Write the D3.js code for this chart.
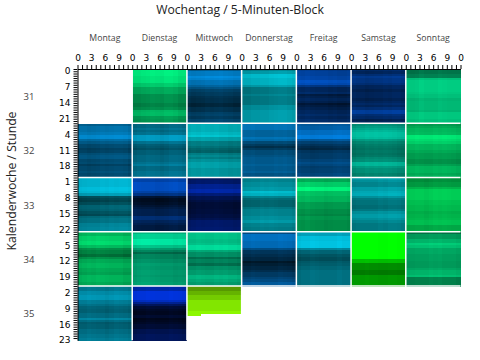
<!DOCTYPE html>
<html>
<head>
<meta charset="utf-8">
<script src="https://cdn.jsdelivr.net/npm/d3@7"></script>
<style>
    html, body { margin: 0; background: #fff; }
    text { font-family: "Open Sans", "Noto Sans", sans-serif; fill: #222; }
    .day-label { font-size: 8.7px; fill: #444; }
    .week-label { font-size: 9.5px; fill: #444; }
    .axis text { font-size: 9px; fill: #000; font-family: "DejaVu Sans", sans-serif; }
    .axis path, .axis line { stroke: #000; }
</style>
</head>
<body>
<svg id="chart" width="480" height="360"></svg>
<script>
    const days = ["Montag", "Dienstag", "Mittwoch", "Donnerstag", "Freitag", "Samstag", "Sonntag"];
    const weeks = ["31", "32", "33", "34", "35"];
    const minuteLabels = ["0", "3", "6", "9"];

    // hue of each panel (one row per week, one value per weekday)
    const hue31 = [null, 152, 202, 185, 215, 216, 158];
    const hue32 = [200, 192, 183, 202, 206, 170, 150];
    const hue33 = [188, 216, 226, 185, 150, 184, 145];
    const hue34 = [150, 162, 162, 205, 188, 120, 155];
    const hue35 = [190, 226, 86];

    // brightness in percent of each hour
    const levels31 = [
        null,
        [92,92,92,88,88,88,78,78,65,65,65,55,55,55,55,50,50,55,70,72,72,60,58,58],
        [55,75,75,85,80,70,70,60,50,40,35,35,30,28,28,22,22,30,30,38,40,35,42,42],
        [55,65,80,80,75,75,75,65,50,50,50,55,50,50,50,50,60,60,65,65,65,65,65,65],
        [55,60,60,65,65,75,70,50,35,35,40,25,30,35,30,20,25,30,35,35,40,35,40,40],
        [40,35,45,55,50,50,45,35,35,30,35,35,35,30,35,40,35,45,60,60,45,40,30,35],
        [45,45,50,50,75,80,80,80,80,80,78,75,75,70,72,72,72,72,70,78,78,78,75,75]
    ];
    const levels32 = [
        [55,65,65,65,70,80,80,62,52,42,42,36,38,46,50,50,42,44,36,42,42,46,42,42],
        [50,50,55,50,55,75,75,75,55,45,42,38,45,45,50,50,50,55,60,50,50,55,55,55],
        [70,70,70,70,75,80,65,65,50,50,45,40,38,50,55,50,58,65,65,65,60,60,60,60],
        [70,70,70,60,60,60,70,65,45,36,28,36,46,46,50,54,54,54,58,54,54,58,50,50],
        [60,65,65,75,75,85,85,60,44,36,30,26,36,40,40,40,46,52,48,42,44,44,48,48],
        [55,60,65,70,75,75,72,60,52,48,46,44,46,44,46,52,55,70,70,60,55,55,50,50],
        [60,65,70,70,72,90,90,85,80,70,70,70,65,60,60,60,55,55,62,70,70,70,65,68]
    ];
    const levels33 = [
        [80,80,80,80,85,85,82,70,35,30,28,34,44,44,42,36,32,46,50,50,58,58,60,60],
        [65,65,75,75,75,75,65,50,20,12,12,15,20,25,30,30,30,45,45,35,30,25,25,25],
        [35,40,40,55,55,65,65,45,30,30,25,20,20,20,22,22,25,25,30,40,40,40,42,42],
        [55,55,60,60,65,65,80,75,55,45,42,42,42,50,55,55,55,60,60,65,55,55,52,52],
        [65,65,80,80,95,95,75,75,70,70,70,60,60,60,55,55,52,58,58,55,55,55,55,55],
        [65,60,55,55,65,65,70,72,60,50,48,48,45,45,50,60,65,65,60,55,50,50,50,50],
        [55,55,60,60,70,80,80,80,80,80,75,75,72,72,72,68,70,70,72,75,75,65,65,68]
    ];
    const levels34 = [
        [70,70,80,80,85,85,72,55,50,50,42,55,65,65,70,70,65,65,62,70,70,70,65,65],
        [70,80,80,90,90,90,75,60,50,40,50,50,55,55,60,58,58,60,60,58,60,60,62,62],
        [75,75,75,72,72,75,85,85,65,55,55,42,50,50,42,55,55,60,60,70,70,65,60,60],
        [50,75,75,75,70,70,70,50,35,35,30,25,25,15,20,25,25,30,38,38,45,50,60,60],
        [72,72,85,85,88,88,88,60,45,45,38,34,34,40,42,46,46,50,50,50,50,50,50,50],
        [100,100,100,100,100,100,100,100,100,100,100,100,75,75,55,55,55,48,48,60,60,60,60,60],
        [45,60,60,70,70,80,75,65,65,65,62,62,62,60,60,60,65,70,70,75,50,50,50,50]
    ];
    const levels35 = [
        [55,55,65,65,70,70,58,58,52,46,44,44,50,50,62,50,42,44,44,50,50,54,54,58],
        [65,65,85,85,85,85,75,55,35,20,15,12,12,18,10,12,15,20,20,30,30,35,35,35],
        [60,60,70,70,80,80,90,90,90,90,90,97,97]
    ];
    const partialCols = 3; // the data stops after 3 blocks of the last row

    // left to right drift of each panel, in percent
    const shift31 = [
        null,
        [-3,-3,-1,0,2,1,0,3,3,1,-3,-3],
        [0,-2,-1,0,2,1,2,3,1,0,-2,-2],
        [-3,-3,-1,-1,0,0,2,3,4,4,2,0],
        [2,1,3,1,0,0,0,-2,-1,-3,-3,-1],
        [2,0,0,-2,-1,0,0,2,1,3,3,1],
        [0,-2,-1,2,0,0,0,2,1,0,0,0]
    ];
    const shift32 = [
        [0,0,-2,-1,0,2,1,2,3,3,2,-2],
        [-2,0,0,2,1,0,-2,0,3,3,2,0],
        [0,2,1,3,2,1,2,0,0,-2,-1,-2],
        [2,1,2,0,0,0,0,2,1,2,0,-2],
        [2,0,0,-2,-1,0,0,0,2,3,2,1],
        [-2,0,0,2,1,2,1,2,1,0,-2,-3],
        [0,0,2,1,0,0,2,1,2,1,0,-2]
    ];
    const shift33 = [
        [-2,-1,0,0,0,2,1,3,2,3,3,1],
        [2,1,0,0,0,-2,-1,0,2,3,0,0],
        [-2,0,2,1,2,1,2,1,0,0,-2,-1],
        [-2,-1,0,0,2,1,2,1,0,0,0,-2],
        [2,1,3,1,0,0,-2,-1,0,0,0,-2],
        [-2,-1,0,0,0,0,2,1,3,3,2,0],
        [-2,-1,0,0,-2,0,2,1,2,1,0,0]
    ];
    const shift34 = [
        [-2,0,2,1,3,2,1,0,0,0,-3,-3],
        [0,2,3,3,2,1,0,0,0,-2,-1,-2],
        [0,0,2,1,0,0,2,1,2,0,0,-2],
        [0,0,2,1,0,0,0,0,2,1,0,-2],
        [-2,0,0,2,1,0,0,0,0,2,0,0],
        [0,0,0,1,0,0,-1,-1,0,0,-1,-1],
        [-2,-1,0,0,0,2,1,2,0,0,0,-2]
    ];
    const shift35 = [
        [0,0,2,1,0,0,-2,0,2,1,0,-2],
        [-2,0,0,2,1,0,0,0,2,1,0,-2],
        [0,0,0,0,0,0,0,0,0,0,0,0]
    ];

    const hues = [hue31, hue32, hue33, hue34, hue35];
    const levels = [levels31, levels32, levels33, levels34, levels35];
    const shifts = [shift31, shift32, shift33, shift34, shift35];

    const blocksPerDay = 12;
    const hoursPerWeek = 24;

    const svg = d3.select("svg#chart");
    const padding = { top: 69, right: 20, bottom: 20, left: 77.5 };

    const xScale = d3.scaleLinear()
        .domain([0, days.length * blocksPerDay])
        .range([padding.left, 460.5]);
    const yScale = d3.scaleLinear()
        .domain([0, weeks.length * hoursPerWeek])
        .range([padding.top, 340.3]);

    // flatten the panels into cells
    const cells = [];
    levels.forEach((weekLevels, w) => {
        weekLevels.forEach((panel, d) => {
            if (!panel) return;
            panel.forEach((level, h) => {
                const partial = panel.length < hoursPerWeek && h === panel.length - 1;
                d3.range(partial ? partialCols : blocksPerDay).forEach(b => {
                    cells.push({
                        col: d * blocksPerDay + b,
                        row: w * hoursPerWeek + h,
                        hue: hues[w][d],
                        level: Math.min(100, level + shifts[w][d][b])
                    });
                });
            });
        });
    });

    svg.append("g")
        .selectAll("rect")
        .data(cells)
        .enter()
        .append("rect")
        .attr("x", d => xScale(d.col))
        .attr("y", d => yScale(d.row))
        .attr("width", d => xScale(d.col + 1) - xScale(d.col) + 0.5)
        .attr("height", d => yScale(d.row + 1) - yScale(d.row) + 0.5)
        .attr("shape-rendering", "crispEdges")
        .attr("fill", d => d3.hsl(d.hue, 1, d.level / 200).formatHex());

    // white lines between the panels
    const separators = svg.append("g").attr("stroke", "#fff").attr("stroke-width", 1.5);
    d3.range(1, days.length).forEach(i => {
        separators.append("line")
            .attr("x1", xScale(i * blocksPerDay)).attr("x2", xScale(i * blocksPerDay))
            .attr("y1", yScale(0)).attr("y2", yScale(weeks.length * hoursPerWeek));
    });
    d3.range(1, weeks.length).forEach(i => {
        separators.append("line")
            .attr("y1", yScale(i * hoursPerWeek)).attr("y2", yScale(i * hoursPerWeek))
            .attr("x1", xScale(0)).attr("x2", xScale(days.length * blocksPerDay));
    });

    // axes
    const topAxis = d3.axisTop(xScale)
        .tickValues(d3.range(0, days.length * blocksPerDay + 1))
        .tickSize(4)
        .tickSizeOuter(0)
        .tickPadding(4)
        .tickFormat(d => d % 3 === 0 ? minuteLabels[(d / 3) % minuteLabels.length] : "");
    svg.append("g")
        .attr("class", "axis")
        .attr("transform", `translate(0, ${padding.top})`)
        .call(topAxis);

    const leftAxis = d3.axisLeft(yScale)
        .tickValues(d3.range(0, weeks.length * hoursPerWeek))
        .tickSize(4)
        .tickSizeOuter(0)
        .tickPadding(3)
        .tickFormat(d => d % 7 === 0 ? (d % hoursPerWeek) : "");
    svg.append("g")
        .attr("class", "axis")
        .attr("transform", `translate(${padding.left}, 0)`)
        .call(leftAxis)
        .selectAll("text")
        .attr("dy", "0.55em");

    // day and week labels
    svg.selectAll(".day-label")
        .data(days)
        .enter()
        .append("text")
        .attr("class", "day-label")
        .attr("x", (d, i) => xScale((i + 0.5) * blocksPerDay))
        .attr("y", 41)
        .attr("text-anchor", "middle")
        .text(d => d);

    svg.selectAll(".week-label")
        .data(weeks)
        .enter()
        .append("text")
        .attr("class", "week-label")
        .attr("x", 29)
        .attr("y", (d, i) => yScale((i + 0.5) * hoursPerWeek) + 4)
        .attr("text-anchor", "middle")
        .text(d => d);

    // titles
    svg.append("text")
        .attr("x", 240)
        .attr("y", 14)
        .attr("text-anchor", "middle")
        .attr("font-size", 12.2)
        .text("Wochentag / 5-Minuten-Block");

    svg.append("text")
        .attr("transform", "translate(16, 181) rotate(-90)")
        .attr("text-anchor", "middle")
        .attr("font-size", 12.2)
        .text("Kalenderwoche / Stunde");
</script>
</body>
</html>
